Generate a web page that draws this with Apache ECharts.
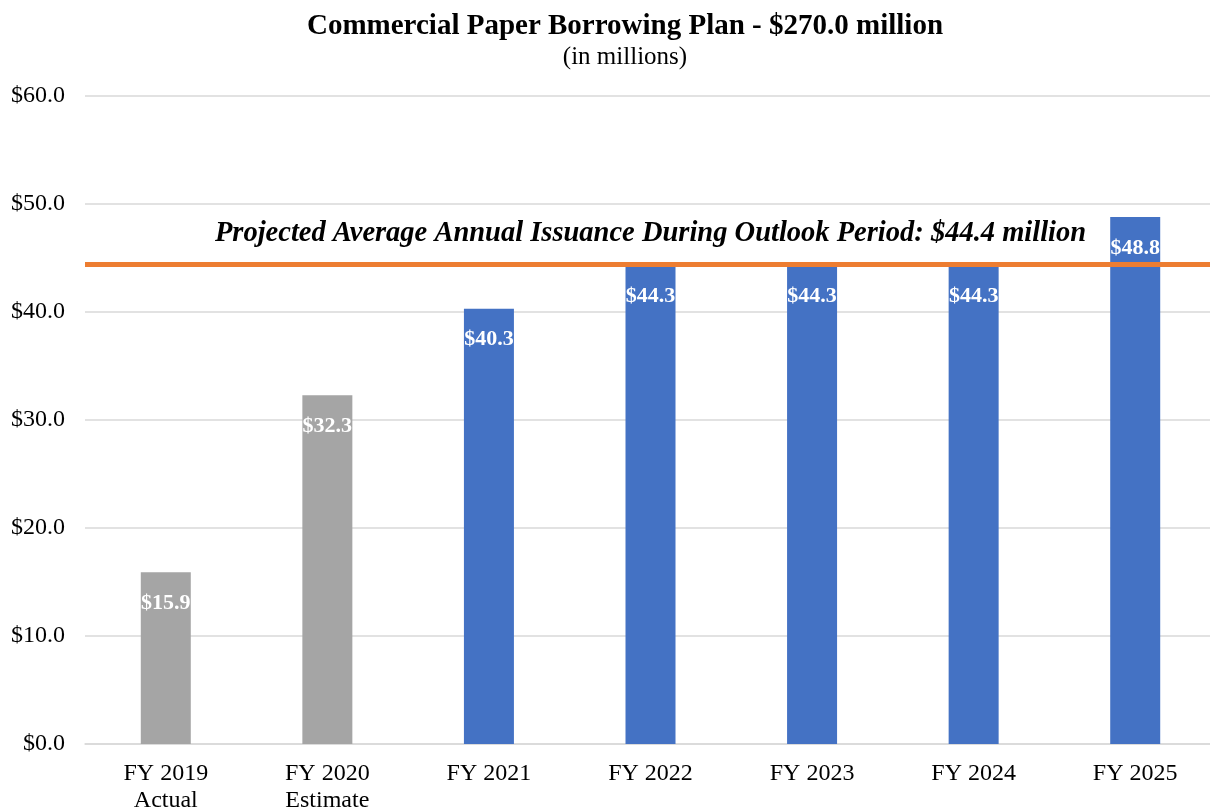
<!DOCTYPE html>
<html><head><meta charset="utf-8">
<script src="https://cdn.jsdelivr.net/npm/echarts@6/dist/echarts.min.js"></script>
<style>html,body{margin:0;padding:0;background:#fff}#c{width:1210px;height:810px}</style>
</head><body><div id="c"></div>
<script>
const categories = ["FY 2019\nActual", "FY 2020\nEstimate", "FY 2021", "FY 2022", "FY 2023", "FY 2024", "FY 2025"];
const values = [15.9, 32.3, 40.3, 44.3, 44.3, 44.3, 48.8];
const isProjection = [false, false, true, true, true, true, true];
const averageValue = 44.4;
const yTicks = [0, 10, 20, 30, 40, 50, 60];

const FONT = '"Liberation Serif", "Times New Roman", serif';
const chart = echarts.init(document.getElementById('c'), null, {renderer: 'canvas'});
chart.setOption({
  animation: false,
  backgroundColor: '#fff',
  title: {
    text: 'Commercial Paper Borrowing Plan - $270.0 million',
    subtext: '(in millions)',
    left: 620, textAlign: 'center', top: 7, itemGap: 4,
    textStyle: {fontFamily: FONT, fontSize: 29, fontWeight: 'bold', color: '#000'},
    subtextStyle: {fontFamily: FONT, fontSize: 25, color: '#000'}
  },
  grid: {left: 85, right: -6, top: 96, bottom: 66, containLabel: false, outerBoundsMode: 'none'},
  xAxis: {
    type: 'category', data: categories,
    axisLine: {lineStyle: {color: '#D9D9D9', width: 1.5}},
    axisTick: {show: false},
    axisLabel: {fontFamily: FONT, fontSize: 24, color: '#000', margin: 16, lineHeight: 27, interval: 0}
  },
  yAxis: {
    type: 'value', min: yTicks[0], max: yTicks[yTicks.length - 1], interval: 10,
    axisLine: {show: false}, axisTick: {show: false},
    splitLine: {lineStyle: {color: '#D9D9D9', width: 1.5}},
    axisLabel: {fontFamily: FONT, fontSize: 24, color: '#000', margin: 20,
      formatter: v => '$' + v.toFixed(1)}
  },
  series: [{
    type: 'bar', barWidth: 50,
    data: values.map((v, i) => ({value: v, itemStyle: {color: isProjection[i] ? '#4472C4' : '#A5A5A5'}})),
    label: {
      show: true, position: 'insideTop', distance: 20,
      fontFamily: FONT, fontSize: 22, fontWeight: 'bold', color: '#fff',
      formatter: p => '$' + p.value.toFixed(1)
    },
    markLine: {
      silent: true, symbol: 'none',
      lineStyle: {color: '#ED7D31', width: 5, type: 'solid'},
      data: [{yAxis: averageValue}],
      label: {
        show: true, position: 'insideMiddleTop', distance: 16,
        formatter: 'Projected Average Annual Issuance During Outlook Period: $' + averageValue.toFixed(1) + ' million',
        fontFamily: FONT, fontSize: 28.5, fontWeight: 'bold', fontStyle: 'italic', color: '#000'
      }
    }
  }]
});
</script></body></html>
